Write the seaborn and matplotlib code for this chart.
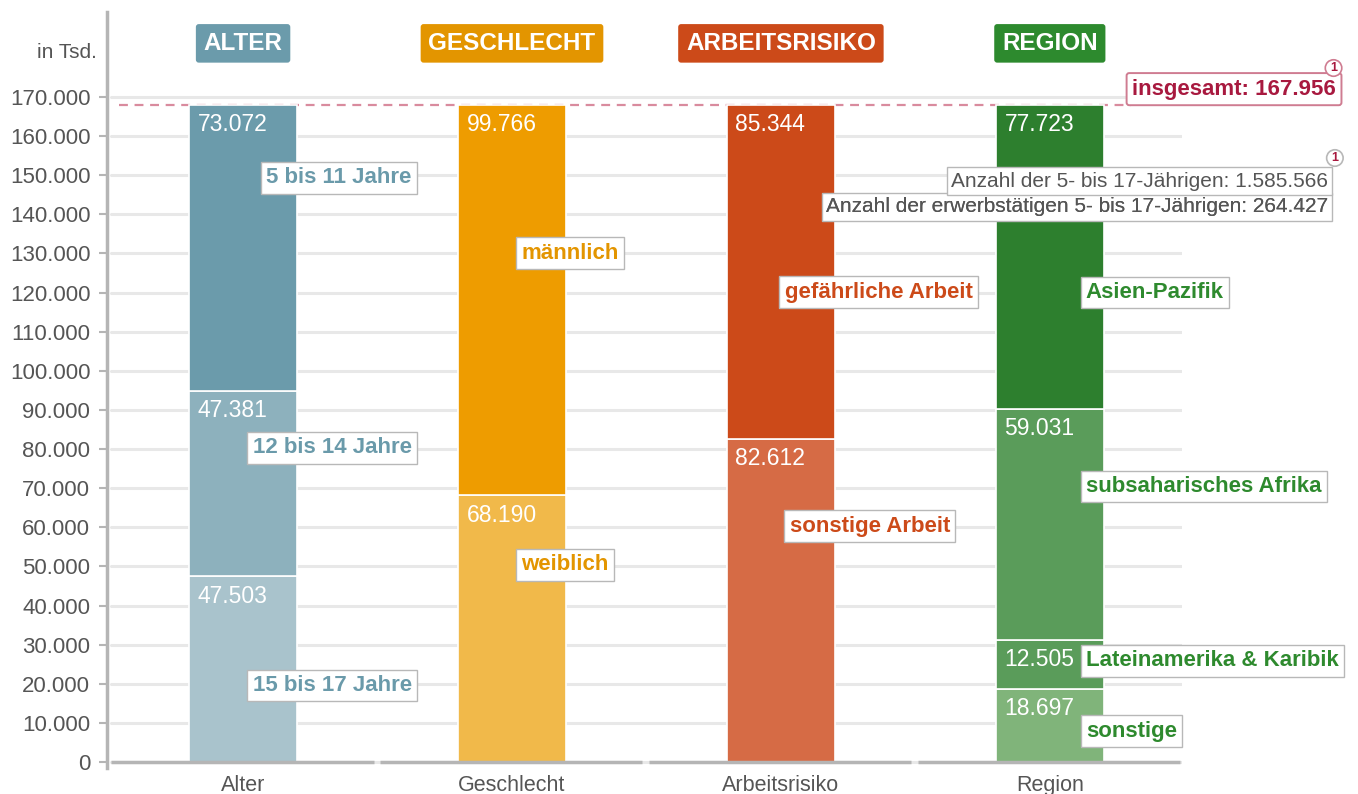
import pandas as pd
import seaborn as sns
import matplotlib.pyplot as plt

# categories and header boxes
cats = ["Alter", "Geschlecht", "Arbeitsrisiko", "Region"]
headers = ["ALTER", "GESCHLECHT", "ARBEITSRISIKO", "REGION"]

# segments, stacked from bottom to top (in Tsd.)
alter_labels = ["15 bis 17 Jahre", "12 bis 14 Jahre", "5 bis 11 Jahre"]
alter_values = [47503, 47381, 73072]
geschlecht_labels = ["weiblich", "männlich"]
geschlecht_values = [68190, 99766]
arbeit_labels = ["sonstige Arbeit", "gefährliche Arbeit"]
arbeit_values = [82612, 85344]
region_labels = ["sonstige", "Lateinamerika & Karibik", "subsaharisches Afrika", "Asien-Pazifik"]
region_values = [18697, 12505, 59031, 77723]

total = 167956
total_label = "insgesamt: 167.956"
footnote = ["Anzahl der 5- bis 17-Jährigen: 1.585.566",
            "Anzahl der erwerbstätigen 5- bis 17-Jährigen: 264.427"]
yticks = list(range(0, 170001, 10000))

# styles
seg_colors = [
    ["#a9c3cc", "#8db1bd", "#6b9bab"],
    ["#f1b94a", "#ee9c00"],
    ["#d66b45", "#cc4a19"],
    ["#80b47a", "#5a9c5a", "#5a9c5a", "#2d7f2e"],
]
head_colors = ["#6b9bab", "#e39500", "#cc4a19", "#2d8a2e"]
text_colors = ["#6a9aaa", "#e39500", "#cc4a19", "#2e8a2e"]
grey = "#555555"
red = "#a8193f"

# label box positions: (x offset from category, y, ha)
label_pos = [
    [(0.627, 19600, "right"), (0.627, 80300, "right"), (0.627, 149300, "right")],
    [(0.035, 50400, "left"), (0.035, 130100, "left")],
    [(0.032, 60300, "left"), (0.014, 120100, "left")],
    [(0.134, 7900, "left"), (0.134, 25900, "left"), (0.134, 70400, "left"), (0.134, 120000, "left")],
]

rows = []
for i, (labs, vals) in enumerate([(alter_labels, alter_values),
                                   (geschlecht_labels, geschlecht_values),
                                   (arbeit_labels, arbeit_values),
                                   (region_labels, region_values)]):
    bottom = 0
    for j, (lab, v) in enumerate(zip(labs, vals)):
        rows.append(dict(cat=cats[i], ci=i, seg=lab, sj=j, value=v, bottom=bottom))
        bottom += v
df = pd.DataFrame(rows)

sns.set_style("white")
plt.rcParams['font.family'] = ['Liberation Sans Narrow', 'Liberation Sans', 'DejaVu Sans']

fig = plt.figure(figsize=(13.58, 7.94), dpi=100)
ax = fig.add_axes([0.0788, 0.0327, 0.8701 - 0.0788, 0.9521])

# grid lines
for t in yticks:
    ax.axhline(t, color="#e8e8e8", lw=2.2, zorder=0, xmin=0.004)

# total dashed line
ax.plot([-0.46, 3.3], [total, total], ls=(0, (4, 3)), color="#d98b9e", lw=1.6, zorder=1)

# stacked bars
for _, r in df.iterrows():
    sns.barplot(x=[r["cat"]], y=[r["value"]], order=cats, bottom=r["bottom"],
                color=seg_colors[r["ci"]][r["sj"]], saturation=1, width=0.403,
                edgecolor="white", linewidth=1.2, ax=ax, zorder=2)
    top = r["bottom"] + r["value"]
    ax.annotate(f"{r['value']:,}".replace(",", "."), xy=(r["ci"] - 0.2, top),
                xytext=(6, -6), textcoords="offset points", ha="left", va="top",
                color="white", fontsize=16.5, zorder=4)
    dx, y, ha = label_pos[r["ci"]][r["sj"]]
    ax.text(r["ci"] + dx, y, r["seg"], ha=ha, va="center", fontsize=16,
            fontweight="bold", color=text_colors[r["ci"]], zorder=5,
            bbox=dict(boxstyle="square,pad=0.24", fc="white", ec="#b8b8b8", lw=1))

# baseline segments
for i in range(len(cats)):
    ax.plot([i - 0.49, i + 0.485], [0, 0], color="#b5b5b5", lw=2.5, zorder=3,
            solid_capstyle="butt")

# headers
for i, h in enumerate(headers):
    ax.text(i, 183700, h, ha="center", va="center", fontsize=17.5, fontweight="bold",
            color="white",
            bbox=dict(boxstyle="round,pad=0.32,rounding_size=0.12",
                      fc=head_colors[i], ec="none"))

# total box
ax.text(3.685, 172000, total_label, ha="center", va="center", fontsize=16,
        fontweight="bold", color=red, zorder=6,
        bbox=dict(boxstyle="round,pad=0.25,rounding_size=0.12", fc="white",
                  ec="#cf7c91", lw=1.4))
ax.text(4.055, 177400, "1", ha="center", va="center", fontsize=9, fontweight="bold",
        color=red, zorder=7,
        bbox=dict(boxstyle="circle,pad=0.18", fc="white", ec="#cf7c91", lw=1.2))

# footnote boxes (two steps)
ax.text(4.035, 141900, footnote[1], ha="right", va="center", fontsize=15, color=grey,
        zorder=6, bbox=dict(boxstyle="square,pad=0.2", fc="white", ec="#b8b8b8", lw=1))
ax.text(4.035, 148500, footnote[0], ha="right", va="center", fontsize=15, color=grey,
        zorder=6, bbox=dict(boxstyle="square,pad=0.2", fc="white", ec="#b8b8b8", lw=1))
ax.text(4.035, 141900, footnote[1], ha="right", va="center", fontsize=15, color=grey,
        zorder=6)
ax.text(4.06, 154400, "1", ha="center", va="center", fontsize=9, fontweight="bold",
        color=red, zorder=7,
        bbox=dict(boxstyle="circle,pad=0.18", fc="white", ec="#b8b8b8", lw=1.2))

# unit label
ax.text(-0.545, 181400, "in Tsd.", ha="right", va="center", fontsize=15, color=grey)

# axes styling
ax.set_xlim(-0.506, 3.49)
ax.set_ylim(-1530, 191700)
ax.set_yticks(yticks)
ax.set_yticklabels([f"{t:,}".replace(",", ".") for t in yticks], fontsize=16, color=grey)
ax.set_xticks(range(len(cats)))
ax.set_xticklabels(cats, fontsize=15.5, color=grey)
ax.tick_params(axis="x", length=0, pad=5)
ax.tick_params(axis="y", length=6, width=1.5, color="#b5b5b5", pad=6, direction="out", left=True)
ax.set_xlabel("")
ax.set_ylabel("")
for s in ["top", "right", "bottom"]:
    ax.spines[s].set_visible(False)
ax.spines["left"].set_color("#b5b5b5")
ax.spines["left"].set_linewidth(2.5)

fig.savefig("out.png", dpi=100)
